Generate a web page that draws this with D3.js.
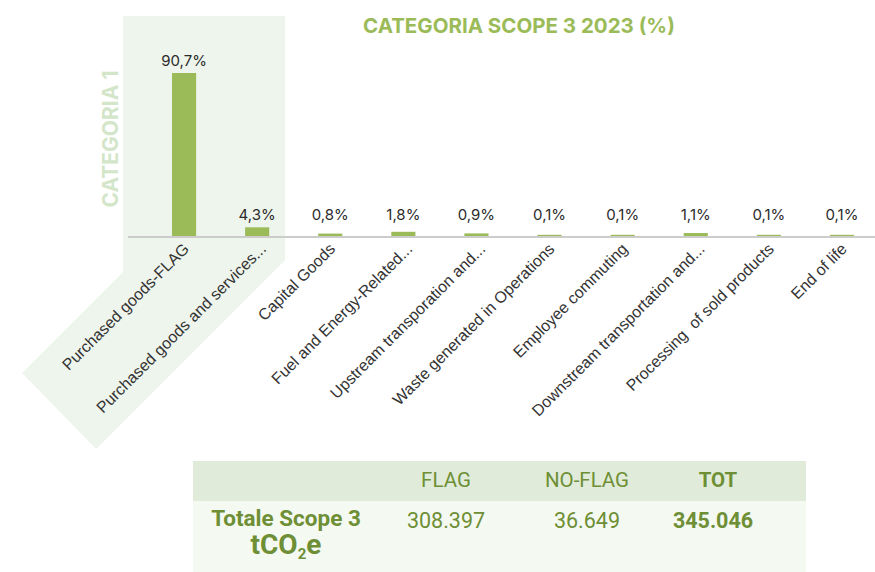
<!DOCTYPE html>
<html><head><meta charset="utf-8">
<script src="https://cdn.jsdelivr.net/npm/d3@7"></script>
<style>body{margin:0;background:#fff}svg{display:block}</style>
</head><body>
<svg id="c" width="875" height="572"></svg>
<script>
const categories = ["Purchased goods-FLAG","Purchased goods and services...","Capital Goods","Fuel and Energy-Related...","Upstream transporation and...","Waste generated in Operations","Employee commuting","Downstream transportation and...","Processing  of sold products","End of life"];
const values = [90.7, 4.3, 0.8, 1.8, 0.9, 0.1, 0.1, 1.1, 0.1, 0.1];
const tableHeaders = ["FLAG","NO-FLAG","TOT"];
const tableValues = [308397, 36649, 345046];
const rowLabel = "Totale Scope 3";

const svg = d3.select("#c");
const green = "#9bbb59", dark = "#6e8f35";

const x = d3.scaleBand().domain(categories).range([147.5, 878.5]).paddingInner(0.67).paddingOuter(0.335);
const y = d3.scaleLinear().domain([0, 90.7]).range([235, 73]);
const base = y(0) + 2;
const cx = d => x(d) + x.bandwidth()/2;

// highlight area for Categoria 1
const L = cx(categories[0]) - 61, R = cx(categories[1]) + 28;
svg.append("polygon").attr("fill", "#eef5ec")
  .attr("points", [[L,16],[R,16],[R,260],[R-189,449],[L-101,373],[L,272]].map(p=>p.join(",")).join(" "));

svg.append("text").attr("x", 519).attr("y", 33).attr("text-anchor","middle")
  .attr("font-family","Inter, sans-serif").attr("font-weight",700).attr("font-size",20.5)
  .attr("fill", green).text("CATEGORIA SCOPE 3 2023 (%)");

svg.append("text").attr("transform","translate(117.5,139) rotate(-90)").attr("text-anchor","middle")
  .attr("font-family","Inter, sans-serif").attr("font-weight",700).attr("font-size",21)
  .attr("fill","#d3e6c9").text("CATEGORIA 1");

svg.append("g").selectAll("rect").data(values).join("rect")
  .attr("x",(d,i)=>x(categories[i])).attr("width",x.bandwidth())
  .attr("y",d=>y(d)).attr("height",d=>base-y(d)).attr("fill",green);

svg.append("line").attr("x1",128).attr("x2",875).attr("y1",base).attr("y2",base)
  .attr("stroke","#cccccc").attr("stroke-width",2);

svg.append("g").selectAll("text").data(values).join("text")
  .attr("x",(d,i)=>cx(categories[i]))
  .attr("y",d=>Math.min(y(d), y(4.3))-7)
  .attr("text-anchor","middle").attr("font-family","Inter, sans-serif").attr("font-size",15)
  .attr("fill","#2b2b2b").text(d=>d.toFixed(1).replace(".",",")+"%");

svg.append("g").selectAll("text").data(categories).join("text")
  .attr("transform",d=>`translate(${cx(d)+(d.endsWith("...")?6:2)},${base+9}) rotate(-45)`)
  .attr("text-anchor","end").attr("dy","0.35em")
  .attr("font-family","'Liberation Sans', Arial, sans-serif").attr("font-size",16)
  .attr("fill","#333").attr("xml:space","preserve").text(d=>d);

// table
const loc = d3.formatLocale({decimal:",", thousands:".", grouping:[3], currency:["",""]});
const fmt = loc.format(",d");
const colX = [446, 587, 718];
svg.append("rect").attr("x",193).attr("y",461).attr("width",613).attr("height",40).attr("fill","#e0ecd9");
svg.append("rect").attr("x",193).attr("y",501).attr("width",613).attr("height",71).attr("fill","#f4f9f2");
svg.append("g").selectAll("text").data(tableHeaders).join("text")
  .attr("x",(d,i)=>colX[i]).attr("y",487).attr("text-anchor","middle")
  .attr("font-family","Roboto, sans-serif").attr("font-size",20.5)
  .attr("font-weight",(d,i)=>i===2?700:400).attr("fill",dark).text(d=>d);
svg.append("g").selectAll("text").data(tableValues).join("text")
  .attr("x",(d,i)=>colX[i]-(i===2?5:0)).attr("y",528).attr("text-anchor","middle")
  .attr("font-family","Roboto, sans-serif").attr("font-size",21.5)
  .attr("font-weight",(d,i)=>i===2?700:400).attr("fill",dark).text(d=>fmt(d));
svg.append("text").attr("x",286).attr("y",526).attr("text-anchor","middle")
  .attr("font-family","Roboto, sans-serif").attr("font-size",22.5).attr("font-weight",700)
  .attr("fill",dark).text(rowLabel);
const t = svg.append("text").attr("x",286).attr("y",554).attr("text-anchor","middle")
  .attr("font-family","Roboto, sans-serif").attr("font-size",28).attr("font-weight",700).attr("fill",dark);
t.append("tspan").text("tCO");
t.append("tspan").attr("font-size",15).attr("dy",5).text("2");
t.append("tspan").attr("dy",-5).text("e");
</script>
</body></html>
